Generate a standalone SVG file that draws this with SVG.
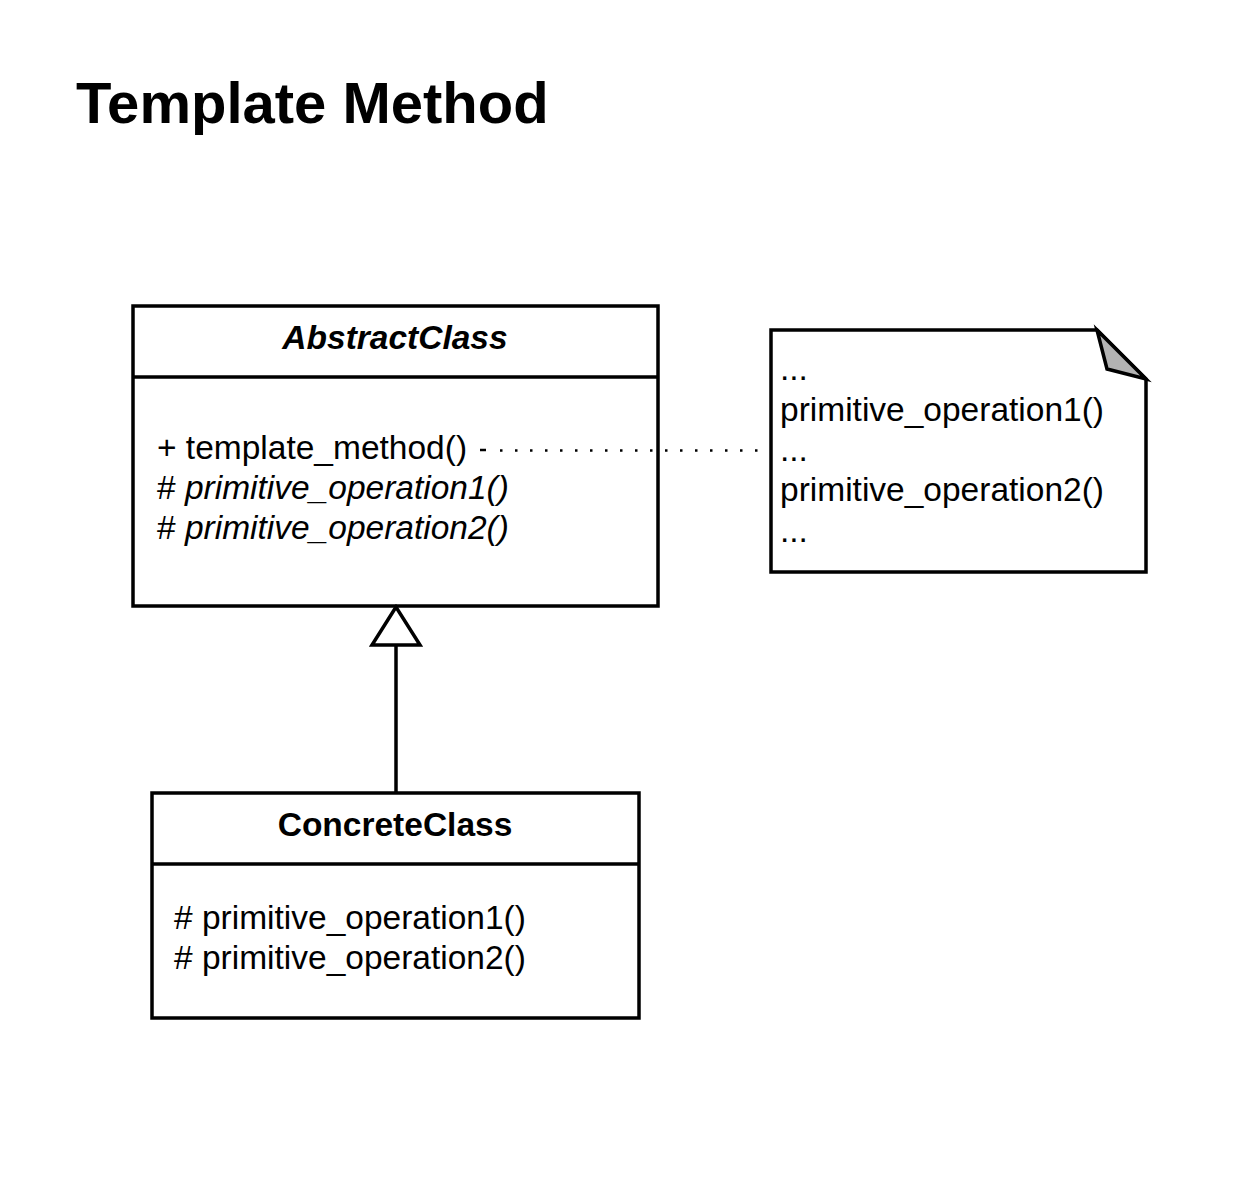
<svg xmlns="http://www.w3.org/2000/svg" width="1259" height="1200" viewBox="0 0 1259 1200">
<style>
  text { font-family: "Liberation Sans", Arial, sans-serif; fill: #000; }
  .title { font-size: 58px; font-weight: bold; }
  .cname { font-size: 33.5px; font-weight: bold; text-anchor: middle; }
  .body { font-size: 33.5px; }
  .it { font-style: italic; }
  .box { fill: #fff; stroke: #000; stroke-width: 3.5; }
  .line { stroke: #000; stroke-width: 3.5; fill: none; }
</style>
<rect width="1259" height="1200" fill="#fff"/>
<text class="title" x="76" y="123">Template Method</text>

<g id="abstract-class">
  <rect class="box" x="133" y="306" width="525" height="300"/>
  <line class="line" x1="133" y1="377" x2="658" y2="377"/>
  <text class="cname it" x="395" y="349">AbstractClass</text>
  <text class="body" x="157" y="459">+ template_method()</text>
  <text class="body" x="157" y="499"># <tspan class="it">primitive_operation1()</tspan></text>
  <text class="body" x="157" y="539"># <tspan class="it">primitive_operation2()</tspan></text>
</g>

<g id="concrete-class">
  <rect class="box" x="152" y="793" width="487" height="225"/>
  <line class="line" x1="152" y1="864" x2="639" y2="864"/>
  <text class="cname" x="395" y="836">ConcreteClass</text>
  <text class="body" x="174" y="929"># primitive_operation1()</text>
  <text class="body" x="174" y="969"># primitive_operation2()</text>
</g>

<g id="note">
  <path class="box" d="M771 330 L1097 330 L1146 379 L1146 572 L771 572 Z"/>
  <path d="M1097 330 L1107 369 L1146 379 Z" fill="#b3b3b3" stroke="#000" stroke-width="3.5" stroke-linejoin="miter"/>
  <text class="body" x="780" y="380">...</text>
  <text class="body" x="780" y="421">primitive_operation1()</text>
  <text class="body" x="780" y="461">...</text>
  <text class="body" x="780" y="501">primitive_operation2()</text>
  <text class="body" x="780" y="542">...</text>
</g>

<g id="connectors">
  <line x1="480" y1="450" x2="486" y2="450" stroke="#000" stroke-width="2.5"/>
  <line x1="500" y1="450.5" x2="758" y2="450.5" stroke="#000" stroke-width="2.5" stroke-dasharray="2.5 12.5"/>
  <line class="line" x1="396" y1="645" x2="396" y2="793"/>
  <path d="M396 607 L372 645 L420 645 Z" fill="#fff" stroke="#000" stroke-width="3.5" stroke-linejoin="miter"/>
</g>
</svg>
